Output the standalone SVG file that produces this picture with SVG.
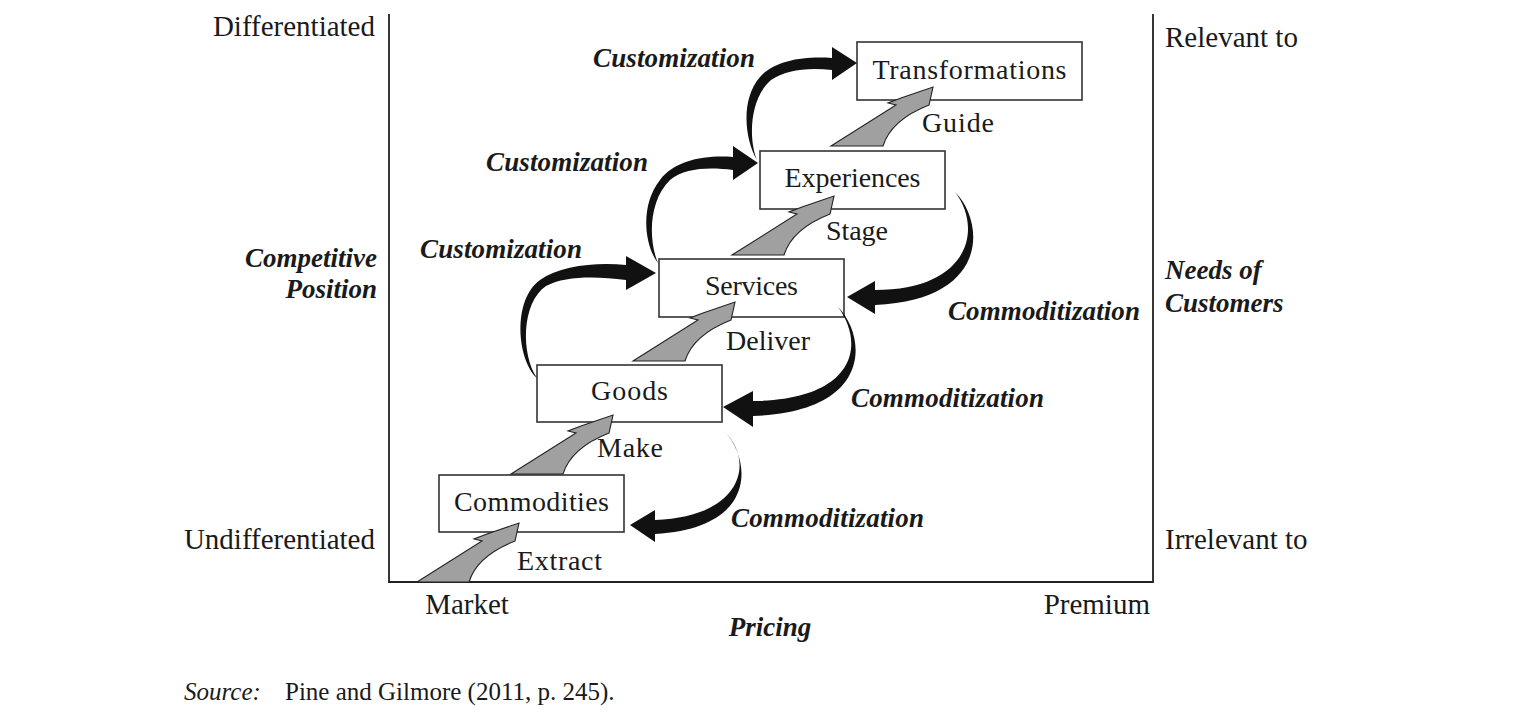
<svg xmlns="http://www.w3.org/2000/svg" width="1530" height="716" viewBox="0 0 1530 716">
<defs>
<style>
text{font-family:"Liberation Serif","Times New Roman",serif;fill:#1a1a1a}
.lb{font-size:28px}
.al{font-size:29px}
.bl{font-size:28px;text-anchor:middle}
.bi{font-size:27px;font-weight:bold;font-style:italic}
.box{fill:#fff;stroke:#333;stroke-width:1.6}
.ax{stroke:#222;stroke-width:1.8;fill:none}
.ga{fill:#a0a0a0;stroke:#222;stroke-width:1.1;stroke-linejoin:miter}
.ba{fill:#111;stroke:none}
</style>
<path id="gray" d="M0,0 L65,-41 L57,-43 L70,-48 L102,-59 L98,-41 Q60,-26 52,0 Z"/>
</defs>
<rect width="1530" height="716" fill="#fff"/>
<g id="axes">
<path class="ax" d="M389,14 V582 H1153 V14"/>
</g>
<g id="node-commodities"><rect class="box" x="439" y="475" width="185" height="57"/><text class="bl" x="531.5" y="511" textLength="155">Commodities</text></g>
<g id="node-goods"><rect class="box" x="537" y="365" width="185" height="57"/><text class="bl" x="629.5" y="400" textLength="77">Goods</text></g>
<g id="node-services"><rect class="box" x="659" y="259" width="185" height="58"/><text class="bl" x="751.5" y="295" textLength="93">Services</text></g>
<g id="node-experiences"><rect class="box" x="760" y="151" width="185" height="58"/><text class="bl" x="852.5" y="187" textLength="136">Experiences</text></g>
<g id="node-transformations"><rect class="box" x="857" y="42" width="225" height="58"/><text class="bl" x="969.5" y="79" textLength="194">Transformations</text></g>
<g id="connectors">
<use href="#gray" class="ga" x="417" y="582"/>
<use href="#gray" class="ga" x="511" y="474"/>
<use href="#gray" class="ga" x="633" y="361"/>
<use href="#gray" class="ga" x="732" y="255"/>
<use href="#gray" class="ga" x="831" y="146"/>
<path class="ba" d="M537,378 C517,360 512,300 540,280 C560,266 595,262 626,265 L626,256 L656,273 L626,290 L626,280 C595,276 565,276 546,286 C521,303 521,355 537,378 Z"/>
<path class="ba" d="M658,263 C644,245 640,205 660,180 C675,160 705,155 733,157 L733,146 L758,163 L733,180 L733,170 C708,167 685,168 670,180 C649,200 648,240 658,263 Z"/>
<path class="ba" d="M757,160 C745,140 740,100 760,77 C775,60 805,56 832,58 L832,47 L857,63 L832,80 L832,70 C808,67 785,70 771,80 C750,98 748,138 757,160 Z"/>
<path class="ba" d="M955,192 C985,222 990,300 875,305 L875,314 L847,297 L875,281 L875,290 C970,290 983,228 955,192 Z"/>
<path class="ba" d="M838,307 C866,335 875,412 753,416 L753,427 L723,407 L753,391 L753,401 C855,400 866,345 838,307 Z"/>
<path class="ba" d="M725,432 C750,458 760,528 655,534 L655,542 L630,525 L655,510 L655,520 C742,517 755,462 725,432 Z"/>
</g>
<g id="labels">
<text class="lb" x="922" y="132" textLength="72">Guide</text>
<text class="lb" x="826" y="240" textLength="62">Stage</text>
<text class="lb" x="726" y="350" textLength="84">Deliver</text>
<text class="lb" x="597" y="457" textLength="66">Make</text>
<text class="lb" x="517" y="570" textLength="85">Extract</text>
<text class="bi" x="593" y="67" textLength="162">Customization</text>
<text class="bi" x="486" y="171" textLength="162">Customization</text>
<text class="bi" x="420" y="258" textLength="162">Customization</text>
<text class="bi" x="948" y="320" textLength="192">Commoditization</text>
<text class="bi" x="851" y="407" textLength="193">Commoditization</text>
<text class="bi" x="731" y="527" textLength="193">Commoditization</text>
</g>
<g id="axis-labels">
<text class="al" x="375" y="36" text-anchor="end">Differentiated</text>
<text class="bi" x="377" y="267" text-anchor="end">Competitive</text>
<text class="bi" x="377" y="298" text-anchor="end">Position</text>
<text class="al" x="375" y="549" text-anchor="end">Undifferentiated</text>
<text class="al" x="1165" y="47">Relevant to</text>
<text class="bi" x="1165" y="279">Needs of</text>
<text class="bi" x="1165" y="312">Customers</text>
<text class="al" x="1165" y="549">Irrelevant to</text>
<text class="al" x="467" y="614" text-anchor="middle">Market</text>
<text class="al" x="1150" y="614" text-anchor="end">Premium</text>
<text class="bi" x="770" y="636" text-anchor="middle">Pricing</text>
</g>
<g id="source">
<text x="184" y="700" style="font-size:25px;font-style:italic">Source:</text>
<text x="285" y="700" style="font-size:25px">Pine and Gilmore (2011, p. 245).</text>
</g>
</svg>
